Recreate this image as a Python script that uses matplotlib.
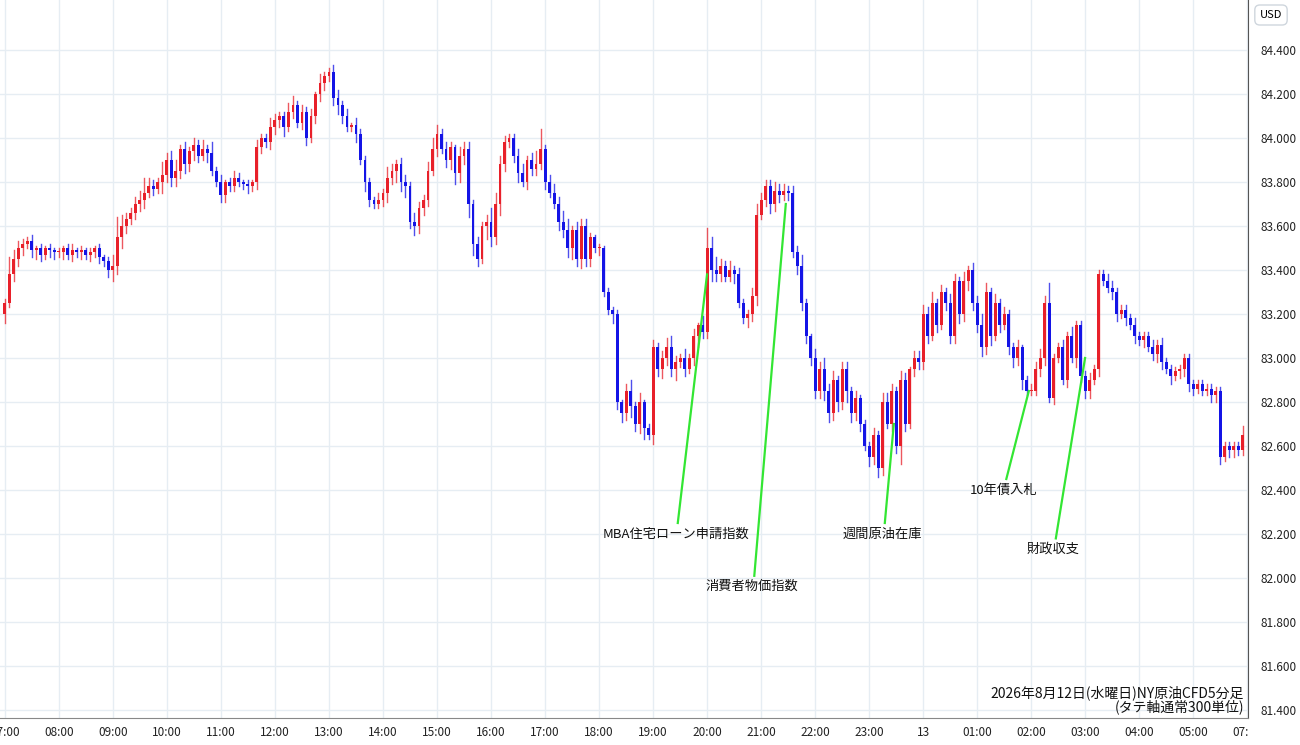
import numpy as np
import matplotlib.pyplot as plt
from matplotlib.patches import Rectangle
from matplotlib.transforms import Bbox, TransformedBbox

plt.rcParams['font.family'] = ['Noto Sans CJK JP', 'DejaVu Sans']

# 5-minute closes, one row per hour (07:00 .. 05:55)
closes = [
    83.25, 83.38, 83.45, 83.50, 83.52, 83.53, 83.49, 83.50, 83.47, 83.50, 83.49, 83.48,  # 07
    83.48, 83.50, 83.47, 83.49, 83.48, 83.49, 83.47, 83.48, 83.50, 83.46, 83.44, 83.40,  # 08
    83.42, 83.55, 83.60, 83.63, 83.66, 83.70, 83.72, 83.75, 83.78, 83.77, 83.80, 83.83,  # 09
    83.90, 83.82, 83.85, 83.95, 83.88, 83.94, 83.97, 83.92, 83.95, 83.93, 83.85, 83.80,  # 10
    83.74, 83.80, 83.78, 83.82, 83.80, 83.79, 83.78, 83.80, 83.96, 84.00, 83.98, 84.05,  # 11
    84.08, 84.10, 84.05, 84.12, 84.15, 84.07, 84.12, 84.00, 84.10, 84.20, 84.25, 84.28,  # 12
    84.30, 84.18, 84.15, 84.10, 84.05, 84.06, 84.02, 83.90, 83.80, 83.72, 83.70, 83.72,  # 13
    83.75, 83.82, 83.85, 83.88, 83.80, 83.78, 83.62, 83.60, 83.68, 83.72, 83.85, 83.95,  # 14
    84.02, 83.95, 83.90, 83.96, 83.84, 83.92, 83.95, 83.70, 83.52, 83.45, 83.60, 83.62,  # 15
    83.55, 83.70, 83.88, 83.98, 84.00, 83.92, 83.84, 83.80, 83.90, 83.86, 83.88, 83.95,  # 16
    83.80, 83.75, 83.70, 83.62, 83.58, 83.50, 83.58, 83.45, 83.60, 83.45, 83.55, 83.50,  # 17
    83.50, 83.30, 83.22, 83.20, 82.80, 82.75, 82.85, 82.78, 82.70, 82.80, 82.68, 82.65,  # 18
    83.05, 82.95, 83.00, 83.05, 82.95, 82.98, 83.00, 82.95, 83.00, 83.10, 83.15, 83.12,  # 19
    83.50, 83.40, 83.38, 83.42, 83.37, 83.40, 83.38, 83.25, 83.18, 83.20, 83.28, 83.65,  # 20
    83.72, 83.78, 83.70, 83.76, 83.74, 83.76, 83.75, 83.48, 83.42, 83.25, 83.10, 83.00,  # 21
    82.85, 82.95, 82.85, 82.75, 82.90, 82.80, 82.95, 82.85, 82.75, 82.82, 82.70, 82.60,  # 22
    82.55, 82.65, 82.50, 82.80, 82.70, 82.85, 82.60, 82.90, 82.70, 82.95, 83.00, 82.98,  # 23
    83.20, 83.10, 83.25, 83.15, 83.30, 83.25, 83.10, 83.35, 83.20, 83.35, 83.40, 83.25,  # 00
    83.15, 83.05, 83.30, 83.10, 83.25, 83.15, 83.20, 83.05, 83.00, 83.05, 82.90, 82.85,  # 01
    82.85, 82.95, 83.00, 83.25, 82.82, 83.00, 83.05, 82.90, 83.10, 83.00, 83.15, 82.92,  # 02
    82.85, 82.90, 82.95, 83.38, 83.35, 83.32, 83.30, 83.20, 83.22, 83.18, 83.15, 83.10,  # 03
    83.08, 83.10, 83.05, 83.02, 83.06, 82.98, 82.95, 82.92, 82.94, 82.95, 83.00, 82.88,  # 04
    82.86, 82.88, 82.85, 82.86, 82.83, 82.85, 82.55, 82.60, 82.58, 82.60, 82.58, 82.65,  # 05
]
first_open = 83.20

# wick lengths in cents (base-36 digits), one group per hour
upper_wicks = ("284322312121" "212312121212" "595323474326" "345232324252" "312321213224"
               "322442323142" "234231322213" "253233243245" "423214332323" "654322342369"
               "234355243321" "212121352412" "323453242314" "956324232245" "333433233521"
               "435342332312" "232443243133" "435232432423" "354242322312" "334392232422"
               "232223322223" "222323222222" "222222222224")
lower_wicks = ("423332343233" "232323232323" "545323342325" "344343432422" "332222323323"
               "334232332333" "234322424322" "343545343332" "323454465326" "435323423332"
               "322434534332" "322434353452" "434335232353" "353322422434" "234332324333"
               "334434354332" "434323383233" "332323334343" "343423234342" "223323223243"
               "332322332323" "232343242333" "322233323322")

hour_labels = ["07:00", "08:00", "09:00", "10:00", "11:00", "12:00", "13:00", "14:00",
               "15:00", "16:00", "17:00", "18:00", "19:00", "20:00", "21:00", "22:00",
               "23:00", "13", "01:00", "02:00", "03:00", "04:00", "05:00", "07:00"]
price_ticks = [84.4, 84.2, 84.0, 83.8, 83.6, 83.4, 83.2, 83.0, 82.8, 82.6, 82.4, 82.2,
               82.0, 81.8, 81.6, 81.4]

# events: label, bar index of anchor, anchor price, text position (bar, price)
events = [
    ("MBA住宅ローン申請指数", 156, 83.38, 149, 82.20),
    ("消費者物価指数", 173.5, 83.70, 166, 81.96),
    ("週間原油在庫", 197.5, 82.70, 195, 82.20),
    ("10年債入札", 227.5, 82.85, 222, 82.40),
    ("財政収支", 240, 83.00, 233, 82.13),
]

UP = "#e8202a"
DOWN = "#1414e6"
GRID = "#e6edf3"
GREEN = "#33e633"

n = len(closes)
opens = [first_open] + closes[:-1]
highs = [max(o, c) + int(u, 36) / 100 for o, c, u in zip(opens, closes, upper_wicks)]
lows = [min(o, c) - int(d, 36) / 100 for o, c, d in zip(opens, closes, lower_wicks)]

fig = plt.figure(figsize=(13, 7.45), dpi=100)
ax = fig.add_axes([0, 27 / 745, 1248 / 1300, 718 / 745])

for i in range(n):
    col = UP if closes[i] >= opens[i] else DOWN
    ax.plot([i, i], [lows[i], highs[i]], color=col, lw=1.0, alpha=0.75, zorder=2)
    lo = min(opens[i], closes[i])
    h = max(abs(closes[i] - opens[i]), 0.006)
    ax.add_patch(Rectangle((i - 0.33, lo), 0.66, h, color=col, lw=0, zorder=3))

ax.set_xlim(-1.1, 276.2)
ax.set_ylim(84.4 - (718 - 50) / 220, 84.4 + 50 / 220)
ax.set_xticks(np.arange(0, 12 * len(hour_labels), 12))
ax.set_xticklabels(hour_labels, fontsize=8.5, color="#222222")
ax.set_yticks(price_ticks)
ax.set_yticklabels([f"{p:.3f}" for p in price_ticks], fontsize=8.5, color="#222222")
ax.yaxis.tick_right()
ax.tick_params(axis="y", length=0, pad=9)
ax.tick_params(axis="x", length=0, pad=6)
ax.grid(True, color=GRID, lw=1)
ax.set_axisbelow(True)
for s in ["top", "left"]:
    ax.spines[s].set_visible(False)
ax.spines["right"].set_color("#555555")
ax.spines["bottom"].set_color("#888888")

# the last hour label is cut off by the price panel, as in the original
clip = TransformedBbox(Bbox([[0, 0], [1248 / 1300, 1]]), fig.transFigure)
for lbl in ax.get_xticklabels():
    lbl.set_clip_box(clip)
    lbl.set_clip_on(True)

for label, bx, by, tx, ty in events:
    ax.plot([tx + 0.5, bx], [ty + 0.05, by], color=GREEN, lw=1.6, zorder=4)
    ax.text(tx, ty, label, fontsize=9.5, ha="center", va="center", color="#111111", zorder=5)

fig.text(1244 / 1300, 1 - 693 / 745, "2026年8月12日(水曜日)NY原油CFD5分足", fontsize=10,
         ha="right", va="center", color="#111111")
fig.text(1244 / 1300, 1 - 707 / 745, "(タテ軸通常300単位)", fontsize=10, ha="right",
         va="center", color="#111111")
fig.text(1271 / 1300, 1 - 15 / 745, "USD", fontsize=8, ha="center", va="center",
         bbox=dict(boxstyle="round,pad=0.45", fc="white", ec="#cfd6dd"))

fig.savefig("out.png", dpi=100)
